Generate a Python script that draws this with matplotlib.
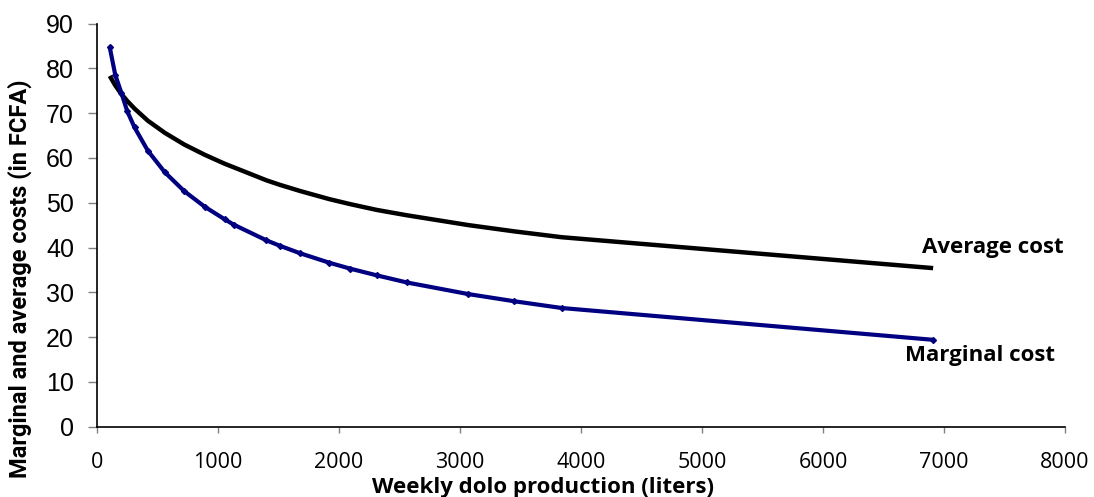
import matplotlib.pyplot as plt
import numpy as np

plt.rcParams['font.family'] = ['Open Sans', 'DejaVu Sans']

# Weekly production (liters) and costs (FCFA)
production = [105, 150, 200, 250, 310, 420, 560, 720, 890, 1055, 1130, 1400,
              1510, 1680, 1920, 2090, 2310, 2560, 3070, 3450, 3840, 6910]
marginal_cost = [84.7, 78.6, 74.6, 70.4, 66.8, 61.6, 56.8, 52.6, 49.1, 46.3, 45.1, 41.6,
                 40.4, 38.7, 36.6, 35.3, 33.8, 32.2, 29.6, 28.0, 26.5, 19.4]
average_cost = [78.3, 76.2, 74.3, 72.7, 71.0, 68.3, 65.6, 63.0, 60.7, 58.7, 57.9, 55.0,
                54.0, 52.6, 50.8, 49.7, 48.4, 47.2, 45.0, 43.6, 42.3, 35.4]

fig = plt.figure(figsize=(10.94, 4.97), dpi=100)
ax = fig.add_axes([0.0887, 0.1414, 0.8848, 0.8113])

ax.plot(production, average_cost, color='black', linewidth=3.2, solid_capstyle='butt')
ax.plot(production, marginal_cost, color='#000080', linewidth=3.0, marker='D',
        markersize=3, solid_capstyle='butt')

ax.text(6815, 39.9, 'Average cost', fontsize=16, fontweight='bold', va='center', ha='left')
ax.text(6675, 16.0, 'Marginal cost', fontsize=16, fontweight='bold', va='center', ha='left')

ax.set_xlim(0, 8000)
ax.set_ylim(0, 90)
ax.set_xticks(np.arange(0, 8001, 1000))
ax.set_yticks(np.arange(0, 91, 10))
ax.tick_params(axis='x', labelsize=15.5, length=4.5, width=1, color='#808080',
               direction='out', pad=14)
ax.tick_params(axis='y', labelsize=18, length=6.5, width=1, color='#808080',
               direction='out', pad=10)
for lbl in ax.get_yticklabels():
    lbl.set_fontfamily('Liberation Sans')
ax.spines['top'].set_visible(False)
ax.spines['right'].set_visible(False)
ax.spines['left'].set_linewidth(1.2)
ax.spines['bottom'].set_linewidth(1.2)

ax.set_xlabel('Weekly dolo production (liters)', fontsize=16, fontweight='bold')
ax.xaxis.set_label_coords(0.4606, -0.15)
ax.xaxis.label.set_va('center')
ax.set_ylabel('Marginal and average costs (in FCFA)', fontsize=17, fontweight='bold',
              family='Roboto')
ax.yaxis.set_label_coords(-0.0795, 0.366)
ax.yaxis.label.set_va('center')

plt.savefig('out.png', dpi=100)
